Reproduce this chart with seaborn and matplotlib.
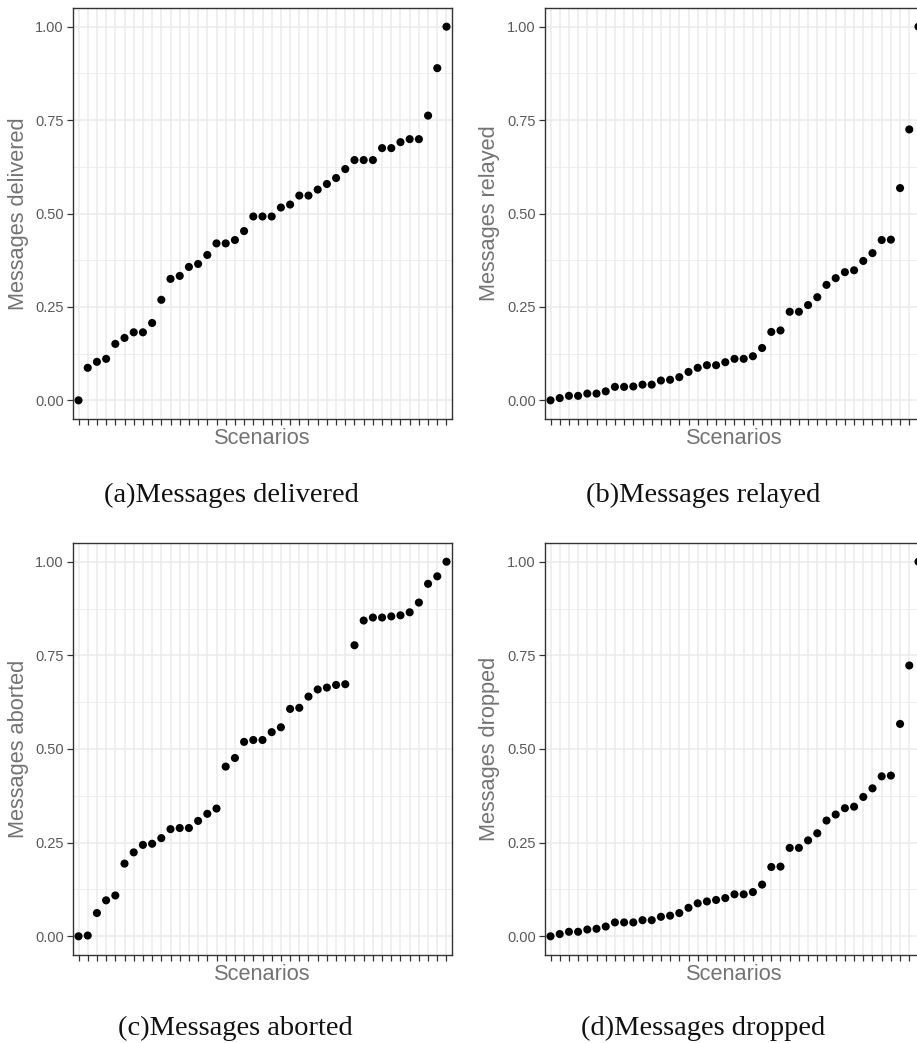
import numpy as np
import pandas as pd
import matplotlib
matplotlib.use("Agg")
import matplotlib.pyplot as plt
import seaborn as sns

# ---- data (sorted per panel, normalised 0..1) ----
delivered = [0.000, 0.087, 0.103, 0.111, 0.151, 0.167, 0.182, 0.182, 0.207, 0.269,
             0.325, 0.333, 0.357, 0.365, 0.389, 0.420, 0.420, 0.429, 0.453, 0.492,
             0.492, 0.492, 0.516, 0.524, 0.548, 0.548, 0.564, 0.579, 0.595, 0.619,
             0.643, 0.643, 0.643, 0.675, 0.675, 0.691, 0.699, 0.699, 0.762, 0.889, 1.000]
relayed = [0.000, 0.006, 0.012, 0.012, 0.018, 0.018, 0.024, 0.036, 0.036, 0.037,
           0.042, 0.042, 0.053, 0.055, 0.062, 0.076, 0.087, 0.094, 0.094, 0.102,
           0.111, 0.111, 0.118, 0.140, 0.183, 0.187, 0.237, 0.237, 0.255, 0.276,
           0.309, 0.327, 0.343, 0.348, 0.373, 0.394, 0.429, 0.430, 0.568, 0.725, 1.000]
aborted = [0.000, 0.002, 0.062, 0.096, 0.109, 0.194, 0.224, 0.244, 0.247, 0.262,
           0.286, 0.289, 0.289, 0.308, 0.327, 0.341, 0.453, 0.476, 0.519, 0.524,
           0.524, 0.545, 0.558, 0.607, 0.610, 0.640, 0.659, 0.664, 0.671, 0.673,
           0.777, 0.843, 0.851, 0.851, 0.854, 0.857, 0.865, 0.891, 0.941, 0.961, 1.000]
dropped = [0.000, 0.006, 0.012, 0.012, 0.018, 0.020, 0.026, 0.037, 0.037, 0.037,
           0.043, 0.043, 0.052, 0.055, 0.062, 0.076, 0.088, 0.093, 0.097, 0.102,
           0.112, 0.112, 0.118, 0.138, 0.185, 0.186, 0.236, 0.236, 0.256, 0.275,
           0.309, 0.325, 0.342, 0.346, 0.372, 0.395, 0.427, 0.429, 0.567, 0.723, 1.000]

ylabels = ["Messages delivered", "Messages relayed", "Messages aborted", "Messages dropped"]
captions = ["(a)Messages delivered", "(b)Messages relayed", "(c)Messages aborted", "(d)Messages dropped"]
yticks = [0.00, 0.25, 0.50, 0.75, 1.00]
ytick_labels = ["0.00", "0.25", "0.50", "0.75", "1.00"]
xlabel = "Scenarios"

sns.set_theme(style="white")
plt.rcParams["font.family"] = ["Liberation Sans", "DejaVu Sans"]

W, H = 917, 1043
fig = plt.figure(figsize=(W / 100, H / 100), dpi=100)
fig.patch.set_facecolor("white")

# panel boxes in pixels: left, top, right, bottom
boxes = [(73, 8, 452, 419), (545, 8, 924, 419),
         (73, 543, 452, 955), (545, 543, 924, 955)]
ylab_x = [19, 490, 19, 490]
cap_pos = [(231, 502), (703, 502), (235, 1035), (703, 1035)]
series = [delivered, relayed, aborted, dropped]

grid_col = "#EBEBEB"
border_col = "#333333"

for vals, ylab, cap, (l, t, r, b), yx, (cx, cy) in zip(series, ylabels, captions, boxes, ylab_x, cap_pos):
    ax = fig.add_axes([l / W, 1 - b / H, (r - l) / W, (b - t) / H])
    n = len(vals)
    df = pd.DataFrame({"scenario": np.arange(n), "value": vals})
    sns.scatterplot(data=df, x="scenario", y="value", ax=ax, color="black",
                    s=34, edgecolor="none", linewidth=0, zorder=3)
    ax.set_xlim(-0.6, n - 1 + 0.6)
    ax.set_ylim(-0.05, 1.05)
    ax.set_facecolor("white")
    # grid
    for yv in yticks:
        ax.axhline(yv, color=grid_col, lw=1.1, zorder=1)
    for yv in [0.125, 0.375, 0.625, 0.875]:
        ax.axhline(yv, color=grid_col, lw=0.6, zorder=1)
    ax.set_xticks(np.arange(n))
    ax.set_xticklabels([])
    for xv in range(n):
        ax.axvline(xv, color=grid_col, lw=1.1, zorder=1)
    ax.set_yticks(yticks)
    ax.set_yticklabels(ytick_labels)
    ax.tick_params(axis="both", which="major", direction="out", length=4.5, width=0.9,
                   color=border_col, labelsize=10.5, labelcolor="#5A5A5A", pad=2.2,
                   bottom=True, left=True)
    for sp in ax.spines.values():
        sp.set_color(border_col)
        sp.set_linewidth(1.0)
        sp.set_visible(True)
    ax.set_xlabel(xlabel, fontsize=15.7, color="#737373")
    ax.set_ylabel(ylab, fontsize=15.7, color="#737373")
    ax.xaxis.label.set_va("center")
    ax.xaxis.set_label_coords(0.5, -19 / (b - t))
    ax.yaxis.label.set_va("center")
    ax.yaxis.set_label_coords((yx - l) / (r - l), 0.5)
    fig.text(cx / W, 1 - cy / H, cap, ha="center", va="baseline",
             fontsize=20.5, family=["Liberation Serif", "DejaVu Serif"], color="#111111")

fig.savefig("out.png", dpi=100)
